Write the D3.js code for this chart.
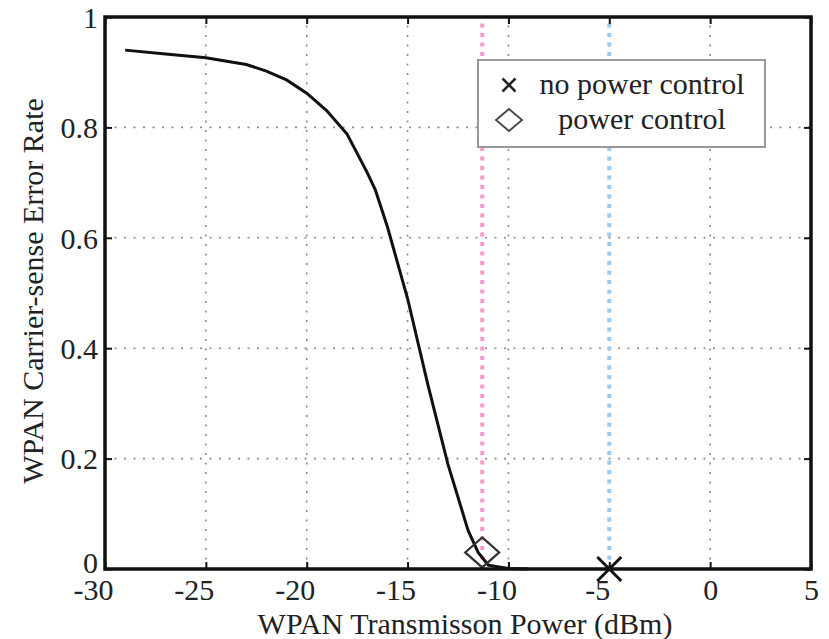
<!DOCTYPE html>
<html>
<head>
<meta charset="utf-8">
<script src="https://cdn.jsdelivr.net/npm/d3@7"></script>
</head>
<body style="margin:0; background:#fff">
<svg id="chart" width="829" height="639"></svg>
<script>
// curve
let powerDbm = [-29, -27, -25, -23, -22, -21, -20, -19, -18, -17, -16.6, -16, -15, -14, -13, -12, -11.5, -11, -10, -9];
let errorRate = [0.94, 0.933, 0.926, 0.914, 0.902, 0.886, 0.862, 0.83, 0.788, 0.718, 0.687, 0.62, 0.49, 0.335, 0.19, 0.07, 0.03, 0.007, 0.001, 0];

let noControl = [{x: -5, y: 0}];
let withControl = [{x: -11.3, y: 0.03}];
let noControlLine = -5;
let withControlLine = -11.3;

let xTicks = [-30, -25, -20, -15, -10, -5, 0, 5];
let yTicks = [0, 0.2, 0.4, 0.6, 0.8, 1];
let yTickLabels = ['0', '0.2', '0.4', '0.6', '0.8', '1'];

let legendItems = [
  {label: 'no power control', marker: 'x'},
  {label: 'power control', marker: 'diamond'}
];

let svg = d3.select('#chart');
let pLeft = 105, pRight = 811, pTop = 17, pBottom = 569;

let x = d3.scaleLinear().domain([-30, 5]).range([pLeft, pRight]);
let y = d3.scaleLinear().domain([0, 1]).range([pBottom, pTop]);

// grid
let grid = svg.append('g')
  .attr('stroke', '#8a8a8a')
  .attr('stroke-width', 1.6)
  .attr('stroke-dasharray', '2,7.5');

grid.selectAll('.vg')
  .data(xTicks.slice(1, -1))
  .enter()
  .append('line')
  .attr('x1', d => x(d)).attr('x2', d => x(d))
  .attr('y1', pBottom).attr('y2', pTop);

grid.selectAll('.hg')
  .data(yTicks.slice(1, -1))
  .enter()
  .append('line')
  .attr('x1', pLeft).attr('x2', pRight)
  .attr('y1', d => y(d)).attr('y2', d => y(d));

// reference lines
let refs = [{v: withControlLine, c: '#ff99cc'}, {v: noControlLine, c: '#99ccf5'}];
svg.selectAll('.ref')
  .data(refs)
  .enter()
  .append('line')
  .attr('x1', d => x(d.v)).attr('x2', d => x(d.v))
  .attr('y1', pBottom).attr('y2', pTop)
  .attr('stroke', d => d.c)
  .attr('stroke-width', 4)
  .attr('stroke-dasharray', '4,5.5');

// curve
let line = d3.line()
  .x((d, i) => x(powerDbm[i]))
  .y(d => y(d));

svg.append('path')
  .datum(errorRate)
  .attr('d', line)
  .attr('fill', 'none')
  .attr('stroke', '#111')
  .attr('stroke-width', 3);

// markers
let cross = (g, cx, cy, r, w, col) => {
  g.append('path')
    .attr('d', `M${cx - r},${cy - r}L${cx + r},${cy + r}M${cx - r},${cy + r}L${cx + r},${cy - r}`)
    .attr('stroke', col).attr('stroke-width', w).attr('fill', 'none');
};
let diamond = (g, cx, cy, rw, rh, w, col) => {
  g.append('path')
    .attr('d', `M${cx},${cy - rh}L${cx + rw},${cy}L${cx},${cy + rh}L${cx - rw},${cy}Z`)
    .attr('stroke', col).attr('stroke-width', w).attr('fill', 'none');
};

noControl.forEach(d => cross(svg, x(d.x), y(d.y), 12, 3, '#111'));
withControl.forEach(d => diamond(svg, x(d.x), y(d.y), 17, 15, 2.2, '#333'));

// axes box and ticks
let xAxis = d3.axisBottom(x).tickValues(xTicks).tickSize(-7).tickPadding(10)
  .tickFormat(d => String(d));
let yAxis = d3.axisLeft(y).tickValues(yTicks).tickSize(-7).tickPadding(7)
  .tickFormat((d, i) => yTickLabels[i]);

let gx = svg.append('g').attr('transform', `translate(0,${pBottom})`).call(xAxis);
let gy = svg.append('g').attr('transform', `translate(${pLeft},0)`).call(yAxis);
svg.append('g').attr('transform', `translate(0,${pTop})`)
  .call(d3.axisTop(x).tickValues(xTicks).tickSize(-7).tickFormat(''));
svg.append('g').attr('transform', `translate(${pRight},0)`)
  .call(d3.axisRight(y).tickValues(yTicks).tickSize(-7).tickFormat(''));

svg.selectAll('.domain').remove();
svg.selectAll('.tick line').attr('stroke', '#111').attr('stroke-width', 2);
svg.selectAll('g').attr('font-family', null).attr('font-size', null);

gx.selectAll('text')
  .attr('dx', d => d < 0 ? -12 : 0);
gy.selectAll('text')
  .attr('dy', d => d === 0 ? '0.12em' : '0.34em')
  .attr('x', -7);

svg.append('rect')
  .attr('x', pLeft).attr('y', pTop)
  .attr('width', pRight - pLeft).attr('height', pBottom - pTop)
  .attr('fill', 'none')
  .attr('stroke', '#111')
  .attr('stroke-width', 3.5);

// axis titles
svg.append('text')
  .attr('x', 465)
  .attr('y', 634)
  .attr('text-anchor', 'middle')
  .text('WPAN Transmisson Power (dBm)');

svg.append('text')
  .attr('transform', `translate(43,291) rotate(-90)`)
  .attr('text-anchor', 'middle')
  .text('WPAN Carrier-sense Error Rate');

// legend
let legend = svg.append('g');
legend.append('rect')
  .attr('x', 478).attr('y', 60)
  .attr('width', 287).attr('height', 87)
  .attr('fill', '#fff')
  .attr('stroke', '#999')
  .attr('stroke-width', 2);

legendItems.forEach((d, i) => {
  let cy = 85 + i * 35;
  if (d.marker === 'x') cross(legend, 509, cy, 6.5, 2.5, '#222');
  else diamond(legend, 509, cy, 13, 11, 1.8, '#444');
  legend.append('text')
    .attr('x', 642)
    .attr('y', cy + 9)
    .attr('text-anchor', 'middle')
    .text(d.label);
});

svg.selectAll('text')
  .style('font-family', '"Liberation Serif"')
  .style('font-size', '30px')
  .attr('fill', '#222');
</script>
</body>
</html>
